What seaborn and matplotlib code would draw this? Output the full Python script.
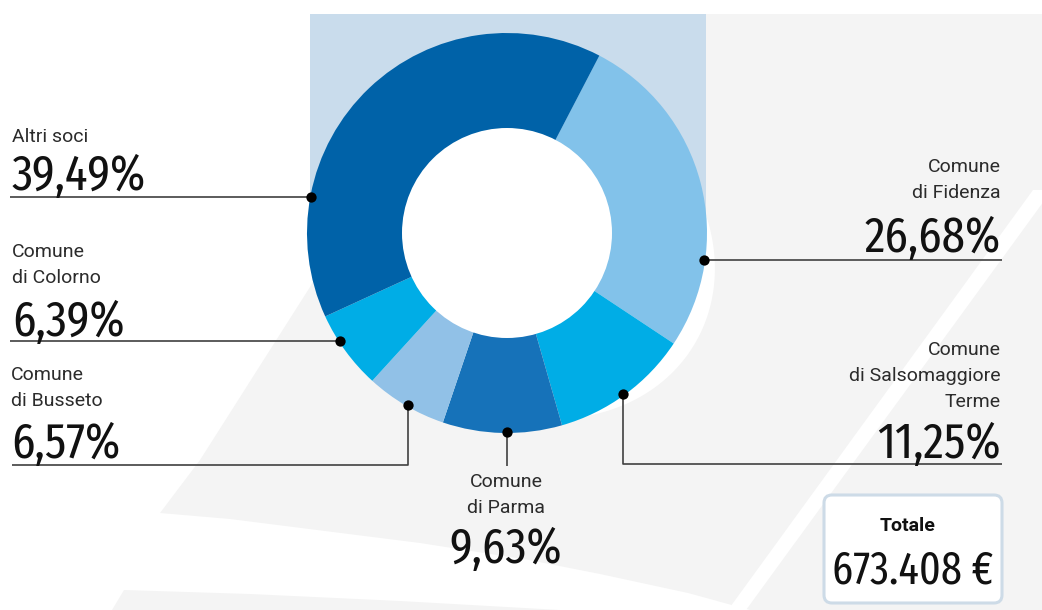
import os
import matplotlib
matplotlib.use("Agg")
import matplotlib.pyplot as plt
from matplotlib import font_manager
from matplotlib.font_manager import FontProperties
from matplotlib.textpath import TextPath
from matplotlib.patches import Polygon, Rectangle, FancyBboxPatch, Circle
import numpy as np
import seaborn as sns

# Ripartizione del capitale sociale (percentuali)
soci = ["Comune\ndi Fidenza", "Comune\ndi Salsomaggiore\nTerme", "Comune\ndi Parma",
        "Comune\ndi Busseto", "Comune\ndi Colorno", "Altri soci"]
quote = [26.68, 11.25, 9.63, 6.57, 6.39, 39.49]
colori = ["#82c2ea", "#00ade6", "#1672b9", "#91c1e7", "#00ade6", "#0062a8"]
totale = 673408
titolo_totale = "Totale"

sns.set_theme(style="white")
palette = sns.color_palette(colori)

available = {f.name for f in font_manager.fontManager.ttflist}


def pick(*names):
    for n in names:
        if n in available:
            return n
    return "DejaVu Sans"


def weight_num(w):
    table = {"ultralight": 200, "light": 300, "normal": 400, "regular": 400, "book": 400,
             "medium": 500, "roman": 400, "semibold": 600, "demibold": 600, "demi": 600,
             "bold": 700, "heavy": 800, "extra bold": 800, "black": 900}
    if isinstance(w, (int, float)):
        return w
    return table.get(str(w).lower(), 400)


def narrow_face(target_weight):
    """Return the narrowest upright face installed, or None."""
    best, best_key = None, None
    for f in font_manager.fontManager.ttflist:
        tag = (f.name + " " + os.path.basename(f.fname)).lower().replace(" ", "").replace("-", "")
        st = str(f.stretch).lower()
        if f.style != "normal" or "italic" in tag or "oblique" in tag:
            continue
        if "extracondensed" in tag or "ultracondensed" in tag or st in ("extra-condensed", "ultra-condensed"):
            rank = 0
        elif "semicondensed" in tag or st == "semi-condensed":
            rank = 2
        elif "condensed" in tag or "narrow" in tag or st == "condensed":
            rank = 1
        else:
            continue
        key = (rank, abs(weight_num(f.weight) - target_weight))
        if best_key is None or key < best_key:
            best, best_key = f, key
    return best


face = narrow_face(400)
if face is not None:
    num_prop = FontProperties(fname=face.fname)
else:
    num_prop = FontProperties(family=pick("Roboto", "Lato", "Open Sans"))
lab_font = pick("Roboto", "Lato", "Open Sans", "Noto Sans")


def fit_size(text, height_px, width_px):
    """Font size (pt) so that digits reach height_px without exceeding width_px."""
    p = num_prop.copy()
    p.set_size(10)
    h = TextPath((0, 0), "0123456789", prop=p).get_extents().height
    w = TextPath((0, 0), text, prop=p).get_extents().width
    s_h = 10 * (height_px * 0.72) / h
    s_w = 10 * (width_px * 0.72) / w
    return min(s_h, s_w)


def pct(v):
    return f"{v:.2f}".replace(".", ",") + "%"


W, H = 1042, 610
fig = plt.figure(figsize=(W / 100, H / 100), dpi=100)
fig.patch.set_facecolor("white")

# donut geometry in pixels
cx, cy, R, r_in = 507, 233, 200, 104

# ---- background layer ----------------------------------------------------
ax_bg = fig.add_axes([0, 0, 1, 1], zorder=0)
ax_bg.set_xlim(0, W)
ax_bg.set_ylim(H, 0)
ax_bg.axis("off")
grey = "#f4f4f4"
ax_bg.add_patch(Polygon([(706, 14), (1042, 14), (1042, 610), (750, 610), (688, 593),
                         (600, 574), (529, 560), (420, 543), (317, 530), (230, 519),
                         (160, 513), (200, 460), (310, 287), (330, 250), (706, 250)],
                        closed=True, facecolor=grey, edgecolor="none"))
ax_bg.add_patch(Polygon([(112, 610), (124, 590), (250, 594), (400, 601), (560, 610)],
                        closed=True, facecolor=grey, edgecolor="none"))
# white diagonal stripe
ax_bg.add_patch(Polygon([(1033, 190), (1052, 190), (746, 610), (728, 610)],
                        closed=True, facecolor="white", edgecolor="none"))
# white halo along the lower right rim of the donut
t = np.linspace(np.radians(5), np.radians(-66), 60)
taper = np.sin(np.pi * (t - t[0]) / (t[-1] - t[0]))
outer = [(cx + (R + 18 * s) * np.cos(a), cy - (R + 18 * s) * np.sin(a)) for a, s in zip(t, taper)]
inner = [(cx + (R - 3) * np.cos(a), cy - (R - 3) * np.sin(a)) for a in t[::-1]]
ax_bg.add_patch(Polygon(outer + inner, closed=True, facecolor="white", edgecolor="none"))
# pale blue panel behind the donut
ax_bg.add_patch(Rectangle((310, 14), 396, 231, facecolor="#c9dcec", edgecolor="none"))

# ---- donut ---------------------------------------------------------------
ax_pie = fig.add_axes([(cx - R) / W, (H - cy - R) / H, 2 * R / W, 2 * R / H], zorder=1)
ax_pie.pie(quote, colors=palette, startangle=62.5, counterclock=False, radius=1,
           wedgeprops=dict(width=(R - r_in) / R, linewidth=0, edgecolor="none"))
ax_pie.add_patch(Circle((0, 0), r_in / R + 0.005, facecolor="white", edgecolor="none"))
ax_pie.set_xlim(-1, 1)
ax_pie.set_ylim(-1, 1)
ax_pie.axis("off")

# ---- leaders, labels, total box -----------------------------------------
ax = fig.add_axes([0, 0, 1, 1], zorder=2)
ax.set_xlim(0, W)
ax.set_ylim(H, 0)
ax.axis("off")
ax.patch.set_alpha(0)

# anchor angle on the rim, leader route, label placement
layout = [
    dict(ang=-7.7, route="right", x=1001, ha="right", name_y=172, num_y=252),
    dict(ang=-54.2, route="down_right", drop=464, x=1001, ha="right", name_y=355, num_y=458),
    dict(ang=-90.0, route="down", drop=466, x=506, ha="center", name_y=487, num_y=563),
    dict(ang=-120.0, route="down_left", drop=465, x=11, ha="left", name_y=380, num_y=458),
    dict(ang=-147.0, route="left", x=12, ha="left", name_y=257, num_y=336),
    dict(ang=169.6, route="left", x=12, ha="left", name_y=142, num_y=190),
]

num_size = fit_size("39,49%", 37, 132)
tot_size = fit_size(f"{totale:,}".replace(",", ".") + " €", 37, 158)

line_kw = dict(color="#404040", lw=1.2, solid_capstyle="butt", zorder=3)
for nome, q, lay in zip(soci, quote, layout):
    a = np.radians(lay["ang"])
    px, py = cx + (R - 1) * np.cos(a), cy - (R - 1) * np.sin(a)
    if lay["route"] == "right":
        ax.plot([px, 1002], [py, py], **line_kw)
    elif lay["route"] == "left":
        ax.plot([px, 10], [py, py], **line_kw)
    elif lay["route"] == "down":
        ax.plot([px, px], [py, lay["drop"]], **line_kw)
    elif lay["route"] == "down_right":
        ax.plot([px, px, 1002], [py, lay["drop"], lay["drop"]], **line_kw)
    elif lay["route"] == "down_left":
        ax.plot([px, px, 12], [py, lay["drop"], lay["drop"]], **line_kw)
    ax.scatter([px], [py], s=55, color="black", zorder=4, linewidths=0)

    for i, riga in enumerate(nome.split("\n")):
        ax.text(lay["x"], lay["name_y"] + i * 26, riga, ha=lay["ha"], va="baseline",
                family=lab_font, fontweight="normal", fontsize=14, color="#2b2b2b")
    p = num_prop.copy()
    p.set_size(num_size)
    ax.text(lay["x"], lay["num_y"], pct(q), ha=lay["ha"], va="baseline",
            fontproperties=p, color="#111111")

ax.add_patch(FancyBboxPatch((824, 495), 178, 108, boxstyle="round,pad=0,rounding_size=8",
                            facecolor="white", edgecolor="#cddbe7", lw=2.2, zorder=3))
ax.text(908, 531, titolo_totale, ha="center", va="baseline", family=lab_font,
        fontweight="bold", fontsize=14, color="#111111", zorder=4)
p = num_prop.copy()
p.set_size(tot_size)
ax.text(913, 583, f"{totale:,}".replace(",", ".") + " €", ha="center", va="baseline",
        fontproperties=p, color="#111111", zorder=4)

fig.savefig("out.png", dpi=100, facecolor=fig.get_facecolor())
